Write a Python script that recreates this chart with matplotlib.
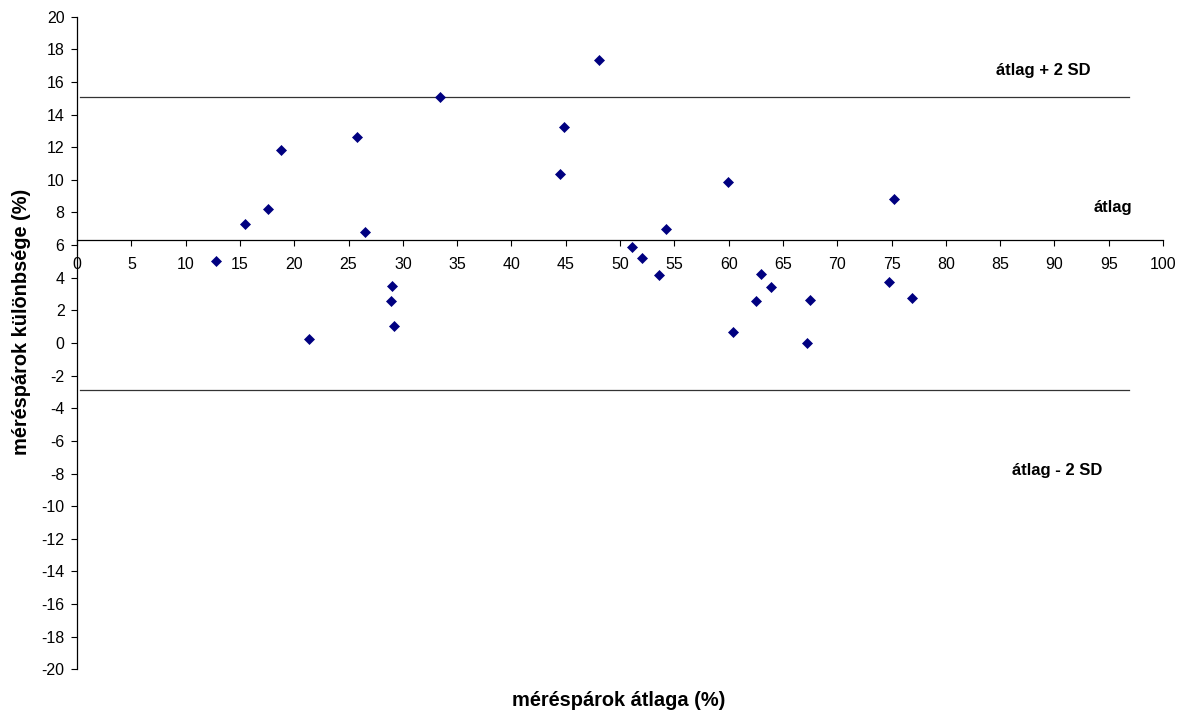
import matplotlib
matplotlib.use("Agg")
import matplotlib.pyplot as plt
import numpy as np

plt.rcParams['font.family'] = ['Liberation Sans', 'DejaVu Sans']
plt.rcParams['axes.unicode_minus'] = False

# méréspárok átlaga (x) és különbsége (y), leolvasva
atlag = [12.8, 15.5, 17.6, 18.8, 21.4, 25.8, 26.5, 29.0, 28.9, 29.2, 33.4,
         44.5, 44.8, 48.1, 51.1, 52.0, 53.6, 54.2, 59.9, 60.4, 62.5, 63.0,
         63.9, 67.2, 67.5, 74.8, 75.2, 76.9]
kulonbseg = [5.03, 7.31, 8.19, 11.81, 0.23, 12.63, 6.78, 3.47, 2.55, 1.02, 15.08,
             10.34, 13.26, 17.33, 5.88, 5.23, 4.17, 6.99, 9.89, 0.67, 2.55, 4.25,
             3.45, -0.02, 2.64, 3.76, 8.83, 2.76]

mean_line = 6.31
upper_line = 15.1
lower_line = -2.88
line_x = [0.3, 96.9]

x_ticks = list(range(0, 101, 5))
y_ticks = list(range(-20, 21, 2))

W, H = 1180, 714
fig = plt.figure(figsize=(W / 100, H / 100), dpi=100)
ax = fig.add_axes([0.0653, 0.0626, 0.9203, 0.914])

ax.plot(atlag, kulonbseg, linestyle='none', marker='D', markersize=4.8,
        color='#000080', markeredgewidth=0.5, zorder=3)

ax.plot(line_x, [upper_line, upper_line], color='#333333', lw=0.9)
ax.plot(line_x, [lower_line, lower_line], color='#333333', lw=0.9)

ax.set_xlim(0, 100)
ax.set_ylim(-20, 20)
ax.set_xticks(x_ticks)
ax.set_yticks(y_ticks)
ax.tick_params(axis='both', labelsize=11.5, length=4, width=0.8, direction='out')
ax.tick_params(axis='x', pad=8)
ax.tick_params(axis='y', pad=5)

ax.spines['top'].set_visible(False)
ax.spines['right'].set_visible(False)
ax.spines['bottom'].set_position(('data', mean_line))
ax.spines['bottom'].set_linewidth(0.9)
ax.spines['left'].set_linewidth(0.9)

def px_text(x, y, s, **kw):
    fig.text(x / W, 1 - y / H, s, ha='center', va='center', fontweight='bold', **kw)

px_text(1043, 70, 'átlag + 2 SD', fontsize=12)
px_text(1113, 207, 'átlag', fontsize=12)
px_text(1057, 470, 'átlag - 2 SD', fontsize=12)

px_text(619, 701, 'méréspárok átlaga (%)', fontsize=14.4)
px_text(22, 322, 'méréspárok különbsége (%)', fontsize=14.4, rotation=90)

fig.savefig('out.png', dpi=100)
